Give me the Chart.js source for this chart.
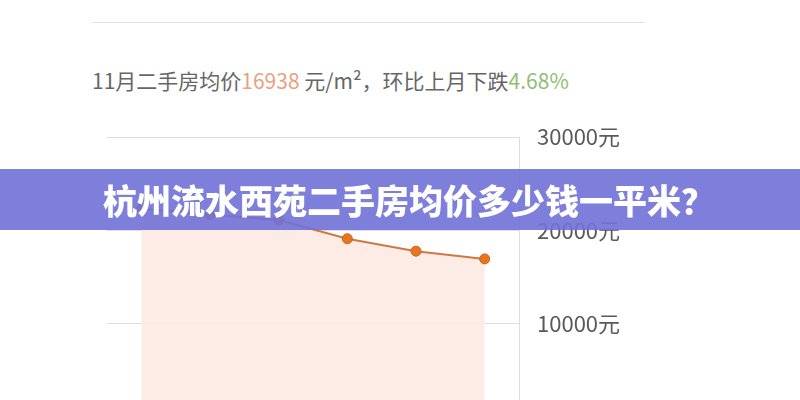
<!DOCTYPE html>
<html>
<head>
<meta charset="utf-8">
<script src="https://cdn.jsdelivr.net/npm/chart.js@4"></script>
<style>
  html, body { margin: 0; padding: 0; width: 800px; height: 400px; overflow: hidden; background: #fff; }
  body { position: relative; font-family: "Noto Sans CJK SC", "Noto Sans", sans-serif; }
  #priceChart { position: absolute; left: 0; top: 0; }
  #sep { position: absolute; left: 92px; top: 22px; width: 553px; height: 1px; background: #e2e2e2; }
  #summary { position: absolute; left: 92px; top: 65px; font-size: 21px; color: #666; white-space: nowrap; }
  #summary .price { color: #eb9f80; }
  #summary .drop { color: #93bd72; }
  #banner { position: absolute; left: 0; top: 169px; width: 697px; height: 61px; padding-left: 103px;
    background: rgba(112, 113, 214, 0.9); color: #fff; font-weight: 900; font-size: 34px; line-height: 61px;
    white-space: nowrap; }
</style>
</head>
<body>
<div id="sep"></div>
<div id="summary">11月二手房均价<span class="price">16938</span> 元/m²，环比上月下跌<span class="drop">4.68%</span></div>
<canvas id="priceChart" width="800" height="460"></canvas>
<div id="banner">杭州流水西苑二手房均价多少钱一平米？</div>
<script>
const months = ["6月", "7月", "8月", "9月", "10月", "11月"];
const prices = [22300, 21700, 21100, 19100, 17770, 16938];
const yTicks = [0, 10000, 20000, 30000];

new Chart("priceChart", {
    type: "line",
    data: {
        labels: months,
        datasets: [{
            label: "二手房均价",
            data: prices,
            fill: "origin",
            tension: 0,
            borderColor: "#d07845",
            borderWidth: 2,
            backgroundColor: "rgba(253, 234, 226, 0.9)",
            pointRadius: 5,
            pointBackgroundColor: "#e8741f",
            pointBorderColor: "#c9651f",
            pointBorderWidth: 1,
        }]
    },
    options: {
        responsive: false,
        animation: false,
        devicePixelRatio: 1,
        layout: {
            padding: { left: 107, top: 137, right: 0, bottom: 43 }
        },
        scales: {
            x: {
                display: false,
                offset: true,
            },
            y: {
                position: "right",
                min: 0,
                max: 30000,
                afterBuildTicks: (scale) => {
                    scale.ticks = yTicks.map(v => ({ value: v }));
                },
                afterFit: (scale) => {
                    scale.width = 281;
                },
                grid: {
                    color: "#dedede",
                    drawTicks: false,
                },
                border: {
                    display: true,
                    color: "#dcdcdc",
                },
                ticks: {
                    padding: 18,
                    color: "#5a5a5a",
                    font: { family: "Noto Sans CJK SC", size: 22 },
                    callback: (v) => v + "元",
                }
            }
        },
        plugins: {
            legend: { display: false },
            tooltip: { enabled: false },
        }
    }
});
</script>
</body>
</html>
